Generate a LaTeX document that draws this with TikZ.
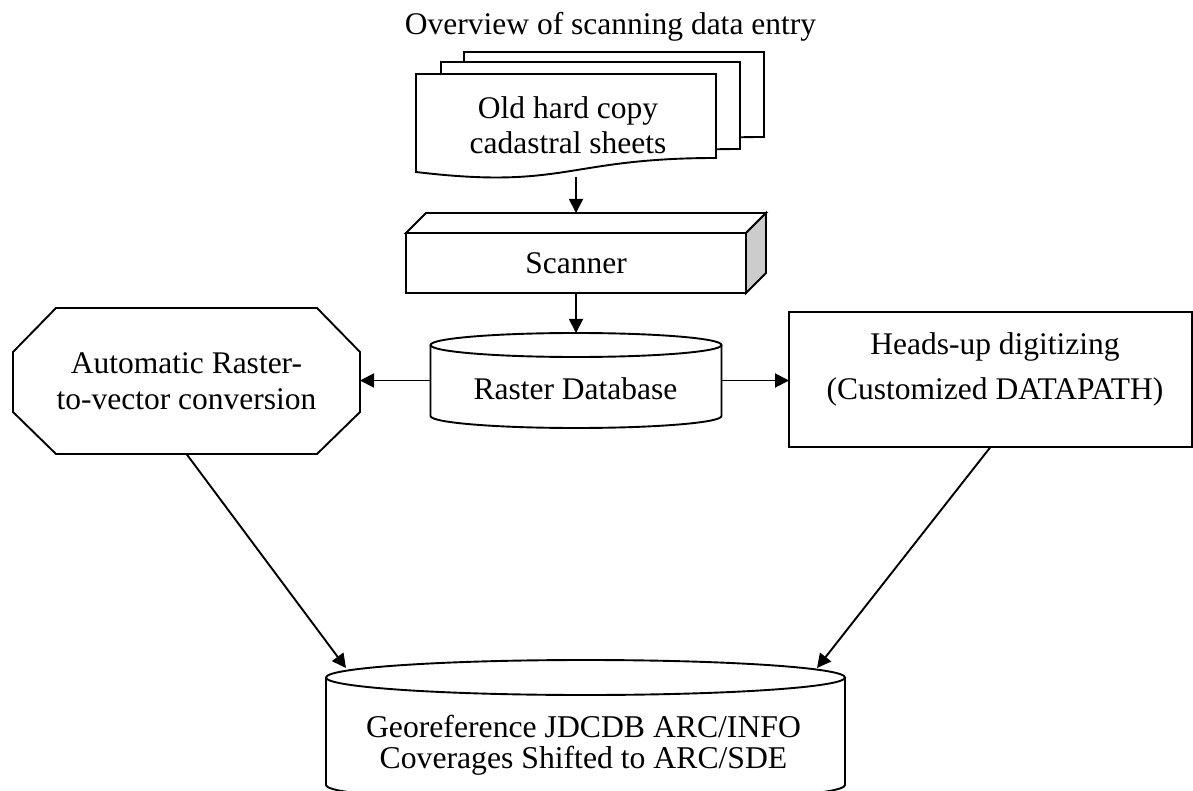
\documentclass[tikz,border=0pt]{standalone}
\usepackage{fontspec}
\setmainfont{Liberation Serif}
\usetikzlibrary{arrows.meta}
\definecolor{sidegray}{HTML}{CCCCCC}
\begin{document}
\begin{tikzpicture}[x=1pt,y=-1pt,line width=1.9pt,
  every node/.style={outer sep=0pt},
  arr/.style={-{Triangle[length=14pt,width=14pt]}},
  txt/.style={inner sep=0pt,align=center,font=\fontsize{31.5}{35}\selectfont},
  anch/.style={inner sep=0pt,outer sep=0pt}]
\useasboundingbox (0,0) rectangle (1193,791);

% title
\node[txt,anchor=base] (title) at (610.5,35) {Overview of scanning data entry};

% stack of documents
\draw[fill=white] (464,52) -- (764,52) -- (764,137) .. controls (614,137) and (614,169) .. (464,151) -- cycle;
\draw[fill=white] (441,62) -- (740,62) -- (740,149) .. controls (590,149) and (590,181) .. (441,163) -- cycle;
\draw[fill=white] (416,74) -- (716,74) -- (716,158) .. controls (566,158) and (566,190) .. (416,172) -- cycle;
\node[txt,minimum width=300pt,minimum height=104pt] (doc) at (568,125) {Old hard copy\\cadastral sheets};

% scanner
\node[txt,draw,fill=white,minimum width=340pt,minimum height=60pt] (scan) at (576,263) {Scanner};
\draw[fill=white] (scan.north west) -- ++(20,-20) -- ++(340,0) -- (scan.north east) -- cycle;
\draw[fill=sidegray] (scan.north east) -- ++(20,-20) -- ++(0,60) -- (scan.south east) -- cycle;
\coordinate (scantop) at ([yshift=20pt]scan.north);

% raster database
\node[anch,minimum width=291pt,minimum height=95pt] (raster) at (576,380.5) {};
\draw (430.5,345) -- (430.5,416) arc[start angle=180,end angle=0,x radius=145.5,y radius=12] -- (721.5,345);
\draw (576,345) ellipse[x radius=145.5,y radius=12];
\node[txt,anchor=base] (rastertext) at (575.5,399) {Raster Database};

% octagon
\draw (56,308) -- (317,308) -- (360,352) -- (360,412) -- (317,454) -- (56,454) -- (13,412) -- (13,352) -- cycle;
\node[txt,font=\fontsize{31.5}{36}\selectfont,minimum width=347pt,minimum height=146pt] (auto) at (186.5,381) {Automatic Raster-\\to-vector conversion};

% heads-up box
\node[anch,draw,minimum width=403pt,minimum height=135pt] (head) at (990.5,379.5) {};
\node[txt,font=\fontsize{31.5}{45}\selectfont] (headtext) at (995,369.6) {Heads-up digitizing\\(Customized DATAPATH)};

% bottom cylinder
\node[anch,minimum width=519pt,minimum height=125pt] (geo) at (585.5,722.5) {};
\draw (326,677.5) -- (326,785) arc[start angle=180,end angle=0,x radius=259.5,y radius=17.5] -- (845,677.5);
\draw (585.5,677.5) ellipse[x radius=259.5,y radius=17.5];
\node[txt,font=\fontsize{31.7}{31}\selectfont] (geotext) at (583.5,745) {Georeference JDCDB ARC/INFO\\Coverages Shifted to ARC/SDE};
\coordinate (geoL) at (346,668);
\coordinate (geoR) at (817,668);

% connectors
\draw[arr] (doc.south -| scantop) -- (scantop);
\draw[arr] (scan.south) -- (raster.north);
\draw[arr] (raster.west) -- (raster.west -| auto.east);
\draw[arr] (raster.east) -- (raster.east -| head.west);
\draw[arr] (auto.south) -- (geoL);
\draw[arr] (head.south) -- (geoR);
\end{tikzpicture}
\end{document}
